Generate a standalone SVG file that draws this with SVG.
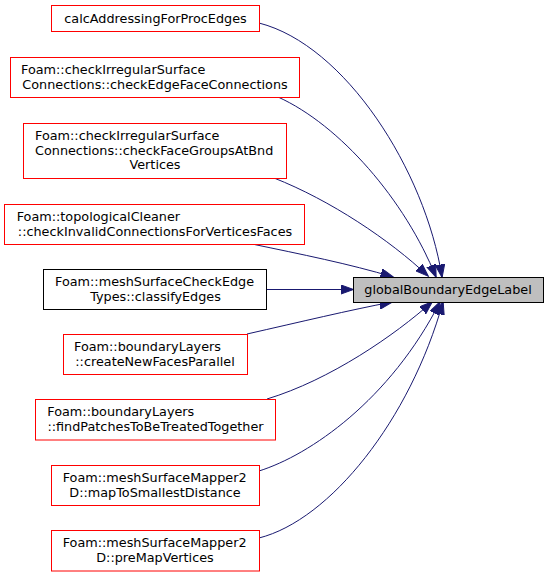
<svg xmlns="http://www.w3.org/2000/svg" width="549" height="577" viewBox="0 0 549 577">
<style>
text{font-family:"DejaVu Sans","Liberation Sans",sans-serif;font-size:12.8px;fill:#000}
.m{text-anchor:middle}
.s{text-anchor:start}
.red{fill:#fff;stroke:#ff0000;stroke-width:1}
.blk{fill:#fff;stroke:#000;stroke-width:1}
.tgt{fill:#bfbfbf;stroke:#000;stroke-width:1}
.e{fill:none;stroke:#191970;stroke-width:1;marker-end:url(#ah)}
</style>
<defs>
<marker id="ah" markerUnits="userSpaceOnUse" markerWidth="14" markerHeight="10" refX="12.5" refY="4.7" orient="auto">
<path d="M0,0 L13,4.7 L0,9.4 z" fill="#191970" stroke="#191970" stroke-width="1"/>
</marker>
</defs>
<rect width="549" height="577" fill="#fff"/>
<g id="edges">
<path class="e" d="M259,23 C345,45 425,170 442,277"/>
<path class="e" d="M278,97 C340,125 405,200 436,277"/>
<path class="e" d="M274,178 C330,200 390,240 428,276"/>
<path class="e" d="M252,244 C300,254 350,264 393,277"/>
<path class="e" d="M267,289.5 L353,289.5"/>
<path class="e" d="M247,334 C300,322 350,310 392,302"/>
<path class="e" d="M267,399 C330,380 395,335 432,302"/>
<path class="e" d="M259,471 C310,455 390,400 440,302"/>
<path class="e" d="M259,538 C330,520 410,420 443,302"/>
</g>
<g id="node1">
<rect class="red" x="51.5" y="5.5" width="208" height="26"/>
<text class="m" x="155.5" y="22.5">calcAddressingForProcEdges</text>
</g>
<g id="node2">
<rect class="red" x="10.5" y="57.5" width="289" height="40"/>
<text class="s" x="21" y="74">Foam::checkIrregularSurface</text>
<text class="m" x="155" y="88.6">Connections::checkEdgeFaceConnections</text>
</g>
<g id="node3">
<rect class="red" x="23.5" y="123.5" width="263" height="55"/>
<text class="s" x="35" y="140">Foam::checkIrregularSurface</text>
<text class="s" x="35" y="154.6">Connections::checkFaceGroupsAtBnd</text>
<text class="m" x="155" y="169.2">Vertices</text>
</g>
<g id="node4">
<rect class="red" x="4.5" y="204.5" width="300" height="40"/>
<text class="s" x="16.7" y="221">Foam::topologicalCleaner</text>
<text class="m" x="155" y="235.6">::checkInvalidConnectionsForVerticesFaces</text>
</g>
<g id="node5">
<rect class="blk" x="43.5" y="269.5" width="223" height="40"/>
<text class="s" x="55" y="286">Foam::meshSurfaceCheckEdge</text>
<text class="m" x="155.5" y="300.6">Types::classifyEdges</text>
</g>
<g id="node6">
<rect class="red" x="63.5" y="334.5" width="184" height="40"/>
<text class="s" x="74" y="351">Foam::boundaryLayers</text>
<text class="m" x="155" y="365.6">::createNewFacesParallel</text>
</g>
<g id="node7">
<rect class="red" x="35.5" y="399.5" width="240" height="40.5"/>
<text class="s" x="47.3" y="416">Foam::boundaryLayers</text>
<text class="m" x="155.5" y="430.6">::findPatchesToBeTreatedTogether</text>
</g>
<g id="node8">
<rect class="red" x="51.5" y="465.5" width="208" height="40"/>
<text class="s" x="62.7" y="482">Foam::meshSurfaceMapper2</text>
<text class="m" x="155" y="496.6">D::mapToSmallestDistance</text>
</g>
<g id="node9">
<rect class="red" x="51.5" y="530.5" width="208" height="40.5"/>
<text class="s" x="62.7" y="547">Foam::meshSurfaceMapper2</text>
<text class="m" x="155" y="561.6">D::preMapVertices</text>
</g>
<g id="target">
<rect class="tgt" x="353.5" y="277.5" width="190" height="25"/>
<text class="m" x="448" y="294">globalBoundaryEdgeLabel</text>
</g>
</svg>
